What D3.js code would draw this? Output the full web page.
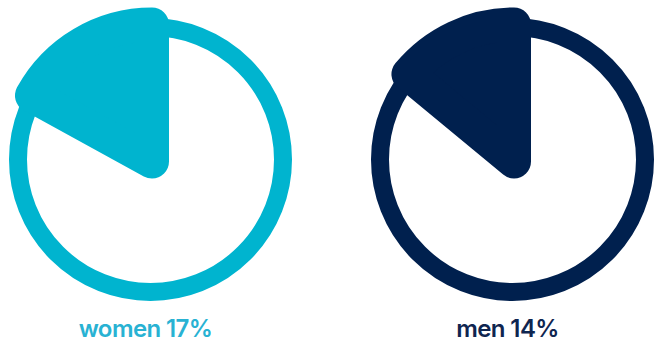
<!DOCTYPE html>
<html>
<head>
<meta charset="utf-8">
<script src="https://cdn.jsdelivr.net/npm/d3@7"></script>
<style>
  html, body { margin: 0; padding: 0; background: #fff; }
  svg { display: block; }
</style>
</head>
<body>
<svg></svg>
<script>
// data
var groups = ['women', 'men'];
var shares = [17, 14];
var colors = ['#00b4cf', '#00204e'];
var labelColors = ['#28b2d3', '#0f2550'];

var width = 655,
  height = 342;

var svg = d3.select('svg')
  .attr('width', width)
  .attr('height', height);

// horizontal placement of each ring
var x = d3.scalePoint()
  .domain(groups)
  .range([150.5, 512.5]);

// percent -> angle, wedge grows counter-clockwise from 12 o'clock
var angle = d3.scaleLinear()
  .domain([0, 100])
  .range([0, 2 * Math.PI]);

var cy = 159.5,
  ringR = 132.5,
  wedgeR = 137;

var arc = d3.arc()
  .innerRadius(0)
  .outerRadius(wedgeR)
  .startAngle(function (d) { return -angle(d); })
  .endAngle(0);

var g = svg.selectAll('.donut')
  .data(groups)
  .enter().append('g')
  .attr('class', 'donut')
  .attr('transform', function (d) {
    return 'translate(' + x(d) + ',' + cy + ')';
  });

g.append('circle')
  .attr('r', ringR)
  .attr('fill', 'none')
  .attr('stroke', function (d, i) { return colors[i]; })
  .attr('stroke-width', 18);

g.append('path')
  .attr('transform', 'translate(1.5,2)')
  .attr('d', function (d, i) { return arc(shares[i]); })
  .attr('fill', function (d, i) { return colors[i]; })
  .attr('stroke', function (d, i) { return colors[i]; })
  .attr('stroke-width', 34)
  .attr('stroke-linejoin', 'round');

svg.selectAll('.label')
  .data(groups)
  .enter().append('text')
  .attr('class', 'label')
  .attr('x', function (d) { return x(d) - 5; })
  .attr('y', 337)
  .attr('text-anchor', 'middle')
  .style('font-family', 'Inter, sans-serif')
  .style('font-weight', 600)
  .style('font-size', '24px')
  .style('letter-spacing', '-0.6px')
  .attr('fill', function (d, i) { return labelColors[i]; })
  .text(function (d, i) { return d + ' ' + shares[i] + '%'; });
</script>
</body>
</html>
